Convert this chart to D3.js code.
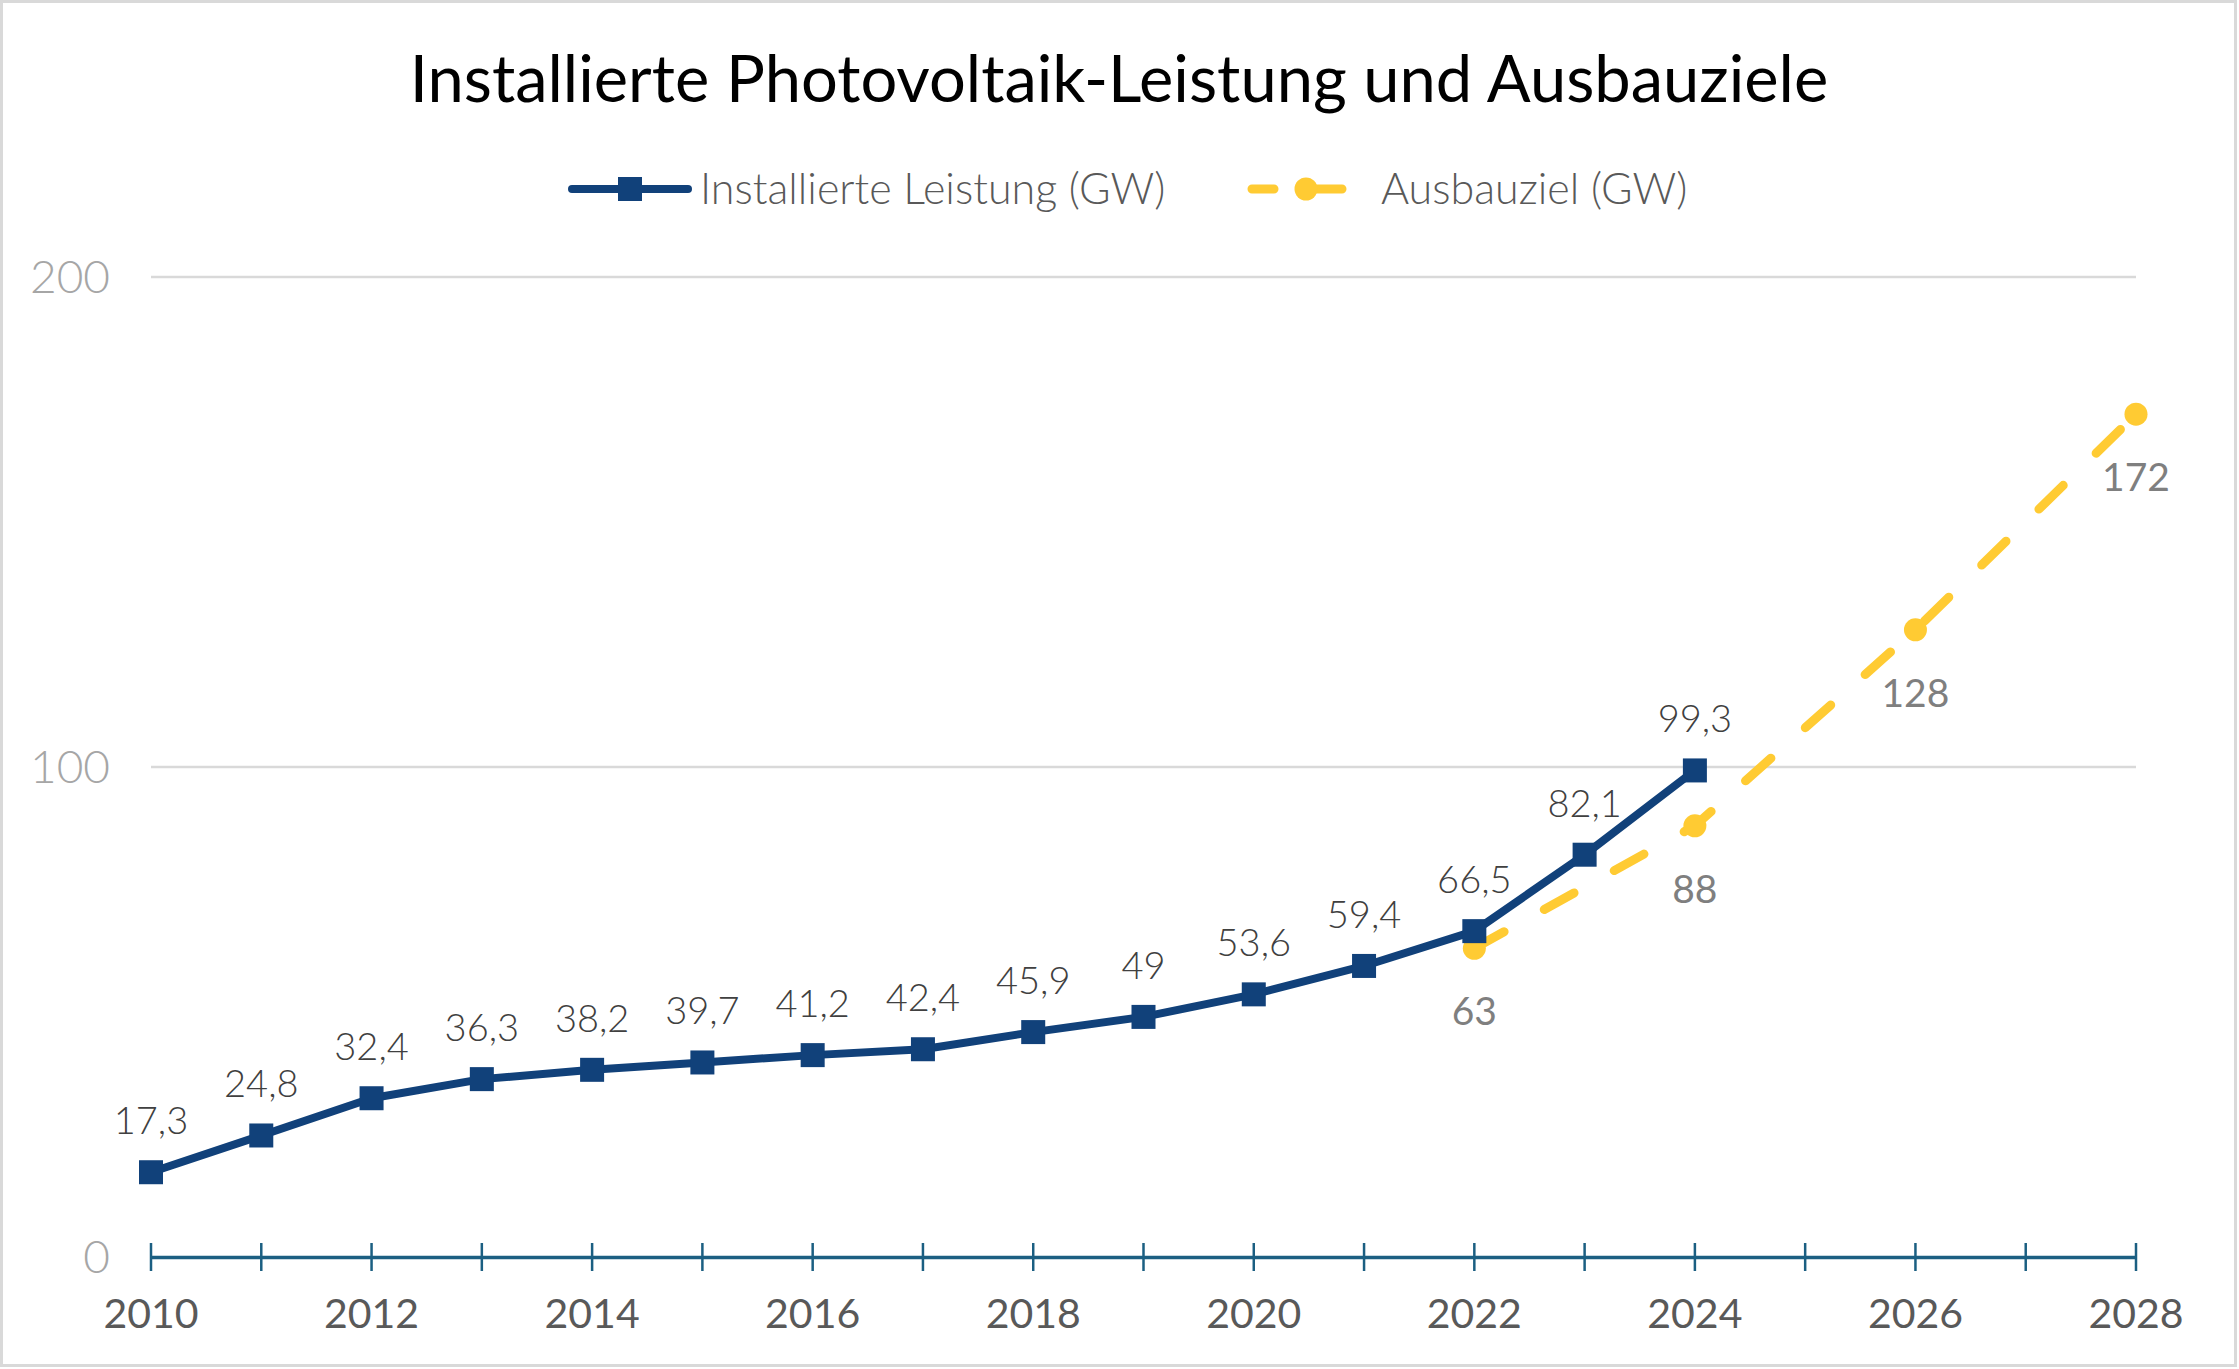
<!DOCTYPE html>
<html><head><meta charset="utf-8">
<script src="https://cdn.jsdelivr.net/npm/d3@7"></script>
<style>html,body{margin:0;padding:0;background:#fff;}svg{display:block;}</style>
</head><body>
<svg id="chart" width="2239" height="1369"></svg>
<script>
const title = "Installierte Photovoltaik-Leistung und Ausbauziele";
const seriesNames = ["Installierte Leistung (GW)", "Ausbauziel (GW)"];
const installedYears = [2010,2011,2012,2013,2014,2015,2016,2017,2018,2019,2020,2021,2022,2023,2024];
const installedValues = [17.3,24.8,32.4,36.3,38.2,39.7,41.2,42.4,45.9,49,53.6,59.4,66.5,82.1,99.3];
const targetYears = [2022,2024,2026,2028];
const targetValues = [63,88,128,172];
const yTicks = [0,100,200];
const xTickYears = [2010,2011,2012,2013,2014,2015,2016,2017,2018,2019,2020,2021,2022,2023,2024,2025,2026,2027,2028];
const xLabelYears = [2010,2012,2014,2016,2018,2020,2022,2024,2026,2028];

const FONT = "Lato, 'Noto Sans', sans-serif";
const BLUE = "#11417a", YELLOW = "#ffcb33", AXIS = "#1b5f82";
const svg = d3.select("#chart");
const W = 2239, H = 1369;

svg.append("rect").attr("x",1.5).attr("y",1.5).attr("width",W-5).attr("height",H-5)
  .attr("fill","#fff").attr("stroke","#d9d9d9").attr("stroke-width",3);

const x = d3.scaleLinear().domain([2010,2028]).range([151,2136]);
const y = d3.scaleLinear().domain([0,200]).range([1257,277]);

// title
svg.append("text").attr("x",1119).attr("y",102).attr("text-anchor","middle")
  .attr("font-family",FONT).attr("font-size",65).attr("fill","#000").text(title);

// gridlines
svg.append("g").selectAll("line").data(yTicks.filter(d=>d>0)).join("line")
  .attr("x1",x(2010)).attr("x2",x(2028)).attr("y1",d=>y(d)).attr("y2",d=>y(d))
  .attr("stroke","#d9d9d9").attr("stroke-width",2.5);

// y labels
svg.append("g").selectAll("text").data(yTicks).join("text")
  .attr("x",110).attr("y",d=>y(d)+16).attr("text-anchor","end")
  .attr("font-family",FONT).attr("font-size",46).attr("font-weight",300).attr("fill","#a6a6a6")
  .text(d=>d);

// x axis
const xAxis = d3.axisBottom(x).tickValues(xTickYears).tickSize(0).tickFormat("");
const gx = svg.append("g").attr("transform",`translate(0,${y(0)})`).call(xAxis);
gx.select(".domain").attr("stroke",AXIS).attr("stroke-width",3.5);
gx.selectAll(".tick line").remove();
svg.append("g").selectAll("line").data(xTickYears).join("line")
  .attr("x1",d=>x(d)).attr("x2",d=>x(d)).attr("y1",y(0)-14).attr("y2",y(0)+14)
  .attr("stroke",AXIS).attr("stroke-width",2.5);
svg.append("g").selectAll("text").data(xLabelYears).join("text")
  .attr("x",d=>x(d)).attr("y",1328).attr("text-anchor","middle")
  .attr("font-family",FONT).attr("font-size",41).attr("fill","#595959").text(d=>d);

const fmt = v => String(v).replace(".", ",");

const targetData = targetYears.map((yr,i)=>({yr, v: targetValues[i]}));
const installedData = installedYears.map((yr,i)=>({yr, v: installedValues[i]}));
const line = d3.line().x(d=>x(d.yr)).y(d=>y(d.v));

// target series (dashed yellow)
svg.append("path").datum(targetData).attr("d",line).attr("fill","none")
  .attr("stroke",YELLOW).attr("stroke-width",9).attr("stroke-dasharray","34,46")
  .attr("stroke-linecap","round");
svg.append("g").selectAll("circle").data(targetData).join("circle")
  .attr("cx",d=>x(d.yr)).attr("cy",d=>y(d.v)).attr("r",11.5).attr("fill",YELLOW);

// installed series
svg.append("path").datum(installedData).attr("d",line).attr("fill","none")
  .attr("stroke",BLUE).attr("stroke-width",8).attr("stroke-linejoin","round");
svg.append("g").selectAll("rect").data(installedData).join("rect")
  .attr("x",d=>x(d.yr)-12).attr("y",d=>y(d.v)-12).attr("width",24).attr("height",24).attr("fill",BLUE);

// labels
svg.append("g").selectAll("text").data(installedData).join("text")
  .attr("x",d=>x(d.yr)).attr("y",d=>y(d.v)-38).attr("text-anchor","middle")
  .attr("font-family",FONT).attr("font-size",38).attr("font-weight",300).attr("fill","#404040")
  .text(d=>fmt(d.v));
svg.append("g").selectAll("text").data(targetData).join("text")
  .attr("x",d=>x(d.yr)).attr("y",d=>y(d.v)+77).attr("text-anchor","middle")
  .attr("font-family",FONT).attr("font-size",39).attr("fill","#7f7f7f")
  .text(d=>fmt(d.v));

// legend
const lg = svg.append("g");
lg.append("line").attr("x1",572).attr("x2",688).attr("y1",189).attr("y2",189)
  .attr("stroke",BLUE).attr("stroke-width",8).attr("stroke-linecap","round");
lg.append("rect").attr("x",630-12).attr("y",189-12).attr("width",24).attr("height",24).attr("fill",BLUE);
lg.append("text").attr("x",700).attr("y",204).attr("font-family",FONT).attr("font-size",43)
  .attr("font-weight",300).attr("fill","#595959").text(seriesNames[0]);
lg.append("line").attr("x1",1252).attr("x2",1355).attr("y1",189).attr("y2",189)
  .attr("stroke",YELLOW).attr("stroke-width",9).attr("stroke-dasharray","22,28,40").attr("stroke-linecap","round");
lg.append("circle").attr("cx",1306).attr("cy",189).attr("r",11.5).attr("fill",YELLOW);
lg.append("text").attr("x",1381).attr("y",204).attr("font-family",FONT).attr("font-size",43)
  .attr("font-weight",300).attr("fill","#595959").text(seriesNames[1]);
</script>
</body></html>
